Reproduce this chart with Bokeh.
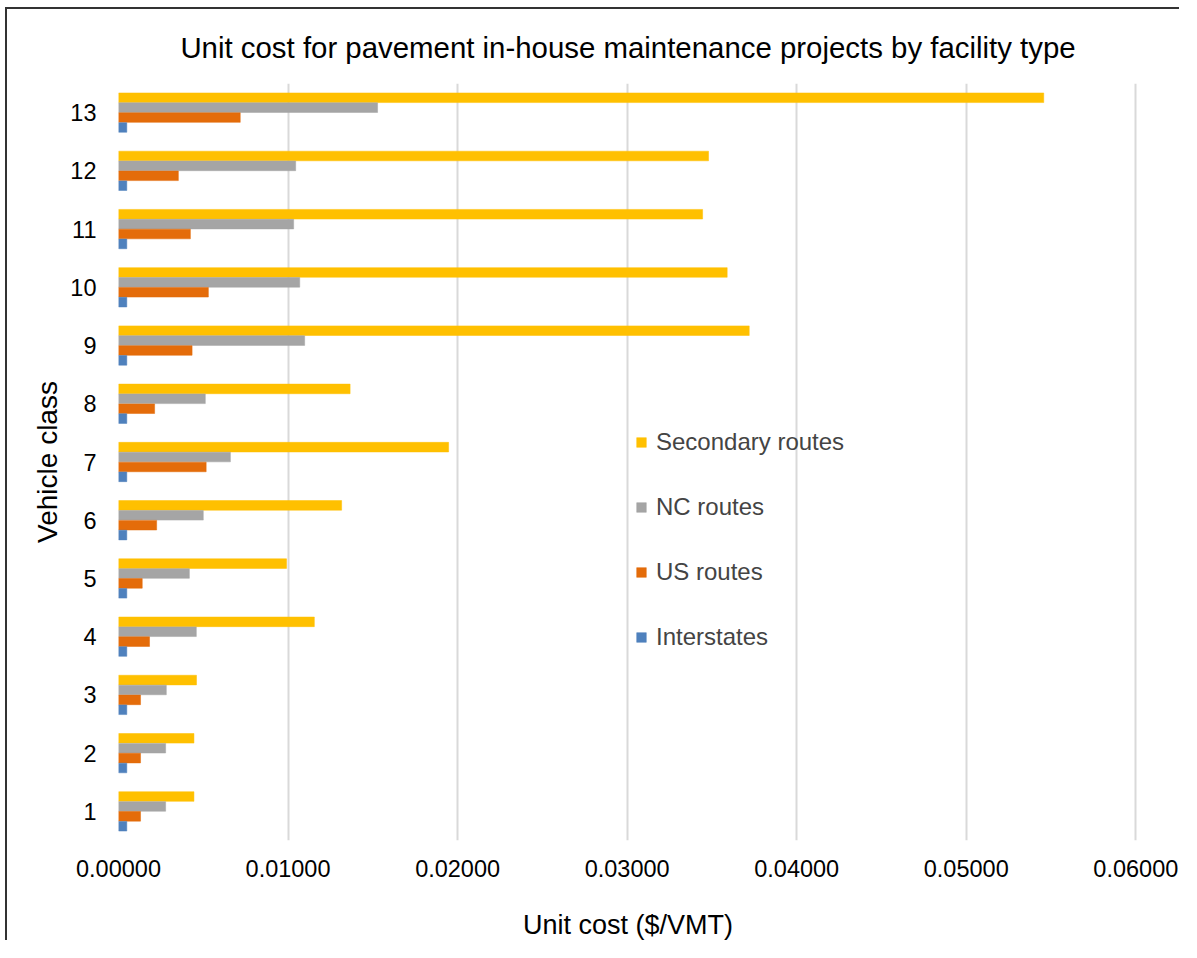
from bokeh.plotting import figure
from bokeh.models import ColumnDataSource, FixedTicker, Legend, LegendItem, Range1d, NumeralTickFormatter
from bokeh.transform import dodge
from bokeh.embed import file_html
from bokeh.resources import INLINE

vehicle_class = [1, 2, 3, 4, 5, 6, 7, 8, 9, 10, 11, 12, 13]
secondary = [0.00445, 0.00445, 0.00460, 0.01155, 0.00991, 0.01316, 0.01947, 0.01366, 0.03720, 0.03590, 0.03445, 0.03480, 0.05457]
nc_routes = [0.00278, 0.00278, 0.00282, 0.00459, 0.00418, 0.00500, 0.00660, 0.00512, 0.01098, 0.01069, 0.01033, 0.01045, 0.01528]
us_routes = [0.00130, 0.00130, 0.00130, 0.00183, 0.00140, 0.00225, 0.00517, 0.00213, 0.00434, 0.00530, 0.00424, 0.00353, 0.00718]
interstates = [0.00049] * 13
x_ticks = [0.0, 0.01, 0.02, 0.03, 0.04, 0.05, 0.06]

src = ColumnDataSource(dict(cls=vehicle_class, sec=secondary, nc=nc_routes, us=us_routes, inter=interstates))

FONT = "Liberation Sans"

p = figure(width=1174, height=933, output_backend="svg", toolbar_location=None,
           x_range=Range1d(0, 0.0601), y_range=Range1d(0.5, 13.5),
           title="Unit cost for pavement in-house maintenance projects by facility type",
           min_border_left=111, min_border_right=44, min_border_top=74, min_border_bottom=102)
p.styles = {"border-left": "2px solid #333", "border-top": "2px solid #333",
            "margin-left": "5px", "margin-top": "7px"}

series = [("sec", "Secondary routes", "#FFC000", 0.255),
          ("nc", "NC routes", "#A5A5A5", 0.085),
          ("us", "US routes", "#E46C0A", -0.085),
          ("inter", "Interstates", "#4F81BD", -0.255)]
renderers = {}
for field, name, color, off in series:
    r = p.hbar(y=dodge("cls", off), right=field, left=0, height=0.165, source=src,
               fill_color=color, line_color=color, line_alpha=0.5, line_width=1)
    renderers[field] = r

legend = Legend(items=[LegendItem(label=name, renderers=[renderers[f]]) for f, name, c, o in series],
                location=(517, 189), orientation="vertical")
legend.label_text_font = FONT
legend.label_text_font_size = "24px"
legend.glyph_width = 12
legend.glyph_height = 12
legend.label_standoff = 9
legend.spacing = 37
legend.background_fill_alpha = 0
legend.border_line_alpha = 0
legend.padding = 0
legend.margin = 0
p.add_layout(legend, "center")

p.title.text_font = FONT
p.title.text_font_size = "29.4px"
p.title.text_font_style = "normal"
p.title.align = "center"
p.title.standoff = 39
p.title.text_color = "#000000"

p.xaxis.ticker = FixedTicker(ticks=x_ticks)
p.xaxis.formatter = NumeralTickFormatter(format="0.00000")
p.yaxis.ticker = FixedTicker(ticks=vehicle_class)
for ax in (p.xaxis, p.yaxis):
    ax.axis_line_color = None
    ax.major_tick_line_color = None
    ax.minor_tick_line_color = None
    ax.major_label_text_font = FONT
    ax.major_label_text_font_size = "23.5px"
    ax.major_label_text_color = "#000000"
    ax.axis_label_text_font = FONT
    ax.axis_label_text_font_size = "27px"
    ax.axis_label_text_font_style = "normal"
    ax.axis_label_text_color = "#000000"
p.yaxis.axis_label_text_font_size = "28px"
p.xaxis.axis_label = "Unit cost ($/VMT)"
p.yaxis.axis_label = "Vehicle class"
p.xaxis.major_label_standoff = 13
p.xaxis.axis_label_standoff = 30
p.yaxis.major_label_standoff = 16
p.yaxis.axis_label_standoff = 4

p.xgrid.ticker = FixedTicker(ticks=x_ticks)
p.xgrid.grid_line_color = "#D9D9D9"
p.xgrid.grid_line_width = 2
p.ygrid.grid_line_color = None
p.outline_line_color = None

open("out.html", "w").write(file_html(p, INLINE))
